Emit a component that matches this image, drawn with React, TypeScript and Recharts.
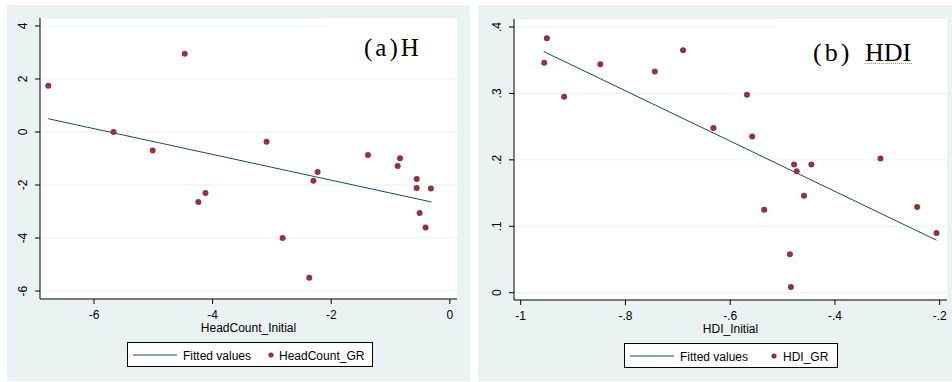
import React from "react";
import { ComposedChart, Scatter, Line, XAxis, YAxis, CartesianGrid } from "recharts";

// HeadCount panel
const hcInitial = [-6.77, -5.67, -5.01, -4.47, -4.24, -4.12, -3.09, -2.82, -2.37, -2.3, -2.23, -1.38, -0.88, -0.84, -0.56, -0.56, -0.51, -0.41, -0.32];
const hcGR = [1.74, 0.0, -0.7, 2.95, -2.64, -2.3, -0.37, -4.0, -5.5, -1.84, -1.51, -0.87, -1.28, -0.99, -1.77, -2.11, -3.06, -3.6, -2.13];
const hcFitX = [-6.77, -0.31];
const hcFitY = [0.5, -2.64];
const hcXTicks = [-6, -4, -2, 0];
const hcYTicks = [-6, -4, -2, 0, 2, 4];

// HDI panel
const hdiInitial = [-0.955, -0.95, -0.917, -0.848, -0.744, -0.69, -0.632, -0.568, -0.558, -0.535, -0.486, -0.484, -0.478, -0.473, -0.459, -0.445, -0.313, -0.243, -0.206];
const hdiGR = [0.346, 0.383, 0.295, 0.344, 0.333, 0.365, 0.248, 0.298, 0.235, 0.125, 0.058, 0.0085, 0.193, 0.183, 0.146, 0.193, 0.202, 0.129, 0.09];
const hdiFitX = [-0.956, -0.206];
const hdiFitY = [0.363, 0.079];
const hdiXTicks = [-1, -0.8, -0.6, -0.4, -0.2];
const hdiYTicks = [0, 0.1, 0.2, 0.3, 0.4];

const NAVY = "#1a476f";
const MAROON = "#90353b";
const BG = "#eaf2f3";
const FONT = "'Liberation Sans', Arial, sans-serif";

// stata style labels: -.4 instead of -0.4
const stata = (v: number) => String(v).replace("0.", ".");

const YTick = (props: any) => {
  const { x, y, payload } = props;
  return (
    <text
      x={x}
      y={y}
      transform={`rotate(-90, ${x}, ${y})`}
      textAnchor="middle"
      dominantBaseline="central"
      fontSize={12}
      fontFamily={FONT}
      fill="#000"
    >
      {stata(payload.value)}
    </text>
  );
};

const Dot = (props: any) => <circle cx={props.cx} cy={props.cy} r={3} fill={MAROON} />;

type PanelProps = {
  left: number;
  width: number;
  xs: number[];
  ys: number[];
  fitX: number[];
  fitY: number[];
  xDomain: [number, number];
  yDomain: [number, number];
  xTicks: number[];
  yTicks: number[];
  xLabel: string;
  yName: string;
  plotLeft: number;
  plotRight: number;
  plotTop: number;
  plotBottom: number;
  legend: { x: number; w: number; top: number; text2: number; dot: number; lineEnd: number };
  titleBox: { x: number };
  title: React.ReactNode;
};

function Panel(p: PanelProps) {
  const H = 376;
  const pts = p.xs.map((x, i) => ({ x, y: p.ys[i] }));
  const fit = p.fitX.map((x, i) => ({ x, y: p.fitY[i] }));
  const xAxisH = 31;
  return (
    <div style={{ position: "absolute", left: p.left, top: 5, width: p.width, height: H, background: BG }}>
      <ComposedChart
        width={p.width}
        height={H}
        margin={{ top: p.plotTop, right: p.width - p.plotRight, left: 0, bottom: H - p.plotBottom - xAxisH }}
      >
        <CartesianGrid vertical={false} stroke={BG} fill="#fff" />
        <XAxis
          dataKey="x"
          type="number"
          domain={p.xDomain}
          allowDataOverflow
          ticks={p.xTicks}
          tickFormatter={stata}
          height={xAxisH}
          axisLine={{ stroke: "#000" }}
          tickLine={{ stroke: "#000" }}
          tickSize={5}
          tickMargin={6}
          tick={{ fontSize: 12, fontFamily: FONT, fill: "#000" }}
          label={{ value: p.xLabel, position: "insideBottom", offset: -2, fontSize: 12, fontFamily: FONT, fill: "#000" }}
        />
        <YAxis
          dataKey="y"
          type="number"
          domain={p.yDomain}
          allowDataOverflow
          ticks={p.yTicks}
          width={p.plotLeft}
          axisLine={{ stroke: "#000" }}
          tickLine={{ stroke: "#000" }}
          tickSize={5}
          tickMargin={12}
          tick={<YTick />}
        />
        <Line data={fit} dataKey="y" stroke={NAVY} strokeWidth={1} dot={false} isAnimationActive={false} />
        <Scatter data={pts} dataKey="y" name={p.yName} shape={<Dot />} isAnimationActive={false} />
      </ComposedChart>

      {/* white title text box over the plot region */}
      <div
        style={{
          position: "absolute",
          left: p.titleBox.x,
          top: p.plotTop,
          width: p.plotRight - p.titleBox.x,
          height: 52,
          background: "#fff",
        }}
      >
        {p.title}
      </div>

      <div
        style={{
          position: "absolute",
          left: p.legend.x,
          top: p.legend.top,
          width: p.legend.w,
          height: 23,
          border: "1px solid #000",
          background: "#fff",
          fontFamily: FONT,
          fontSize: 12,
        }}
      >
        <svg width={p.legend.w} height={23} style={{ position: "absolute", left: 0, top: 0 }}>
          <line x1={5} x2={p.legend.lineEnd} y1={12} y2={12} stroke={NAVY} strokeWidth={1.2} />
          <text x={p.legend.lineEnd + 6} y={16.5} fontSize={12} fontFamily={FONT} fill="#000">
            Fitted values
          </text>
          <circle cx={p.legend.dot} cy={12} r={2.6} fill={MAROON} />
          <text x={p.legend.text2} y={16.5} fontSize={12} fontFamily={FONT} fill="#000">
            {p.yName}
          </text>
        </svg>
      </div>
    </div>
  );
}

const serif = "'Liberation Serif', 'Times New Roman', serif";

export default function App() {
  return (
    <div style={{ position: "fixed", left: 0, top: 0, width: 952, height: 382, background: "#fff" }}>
      <Panel
        left={7}
        width={463}
        xs={hcInitial}
        ys={hcGR}
        fitX={hcFitX}
        fitY={hcFitY}
        xDomain={[-6.91, 0.12]}
        yDomain={[-6.3, 4.3]}
        xTicks={hcXTicks}
        yTicks={hcYTicks}
        xLabel="HeadCount_Initial"
        yName="HeadCount_GR"
        plotLeft={33}
        plotRight={450}
        plotTop={13}
        plotBottom={294}
        legend={{ x: 120, w: 244, top: 337, lineEnd: 49, dot: 143, text2: 151 }}
        titleBox={{ x: 320 }}
        title={
          <svg width={130} height={52}>
            <text x={37} y={38} fontSize={25} fontFamily={serif} letterSpacing={3} fill="#000">
              (a)H
            </text>
          </svg>
        }
      />
      <Panel
        left={478}
        width={474}
        xs={hdiInitial}
        ys={hdiGR}
        fitX={hdiFitX}
        fitY={hdiFitY}
        xDomain={[-1.0128, -0.186]}
        yDomain={[-0.011, 0.412]}
        xTicks={hdiXTicks}
        yTicks={hdiYTicks}
        xLabel="HDI_Initial"
        yName="HDI_GR"
        plotLeft={36}
        plotRight={469}
        plotTop={14}
        plotBottom={295}
        legend={{ x: 146, w: 212, top: 338, lineEnd: 49, dot: 149, text2: 158 }}
        titleBox={{ x: 298 }}
        title={
          <svg width={171} height={52}>
            <text x={37} y={42} fontSize={26} fontFamily={serif} letterSpacing={3} fill="#000">
              (b)
            </text>
            <text x={89} y={42} fontSize={26} fontFamily={serif} fill="#000">
              HDI
            </text>
            <line x1={89} x2={137} y1={44.5} y2={44.5} stroke="#e08a2e" strokeWidth={1} strokeDasharray="1 1" />
          </svg>
        }
      />
    </div>
  );
}
